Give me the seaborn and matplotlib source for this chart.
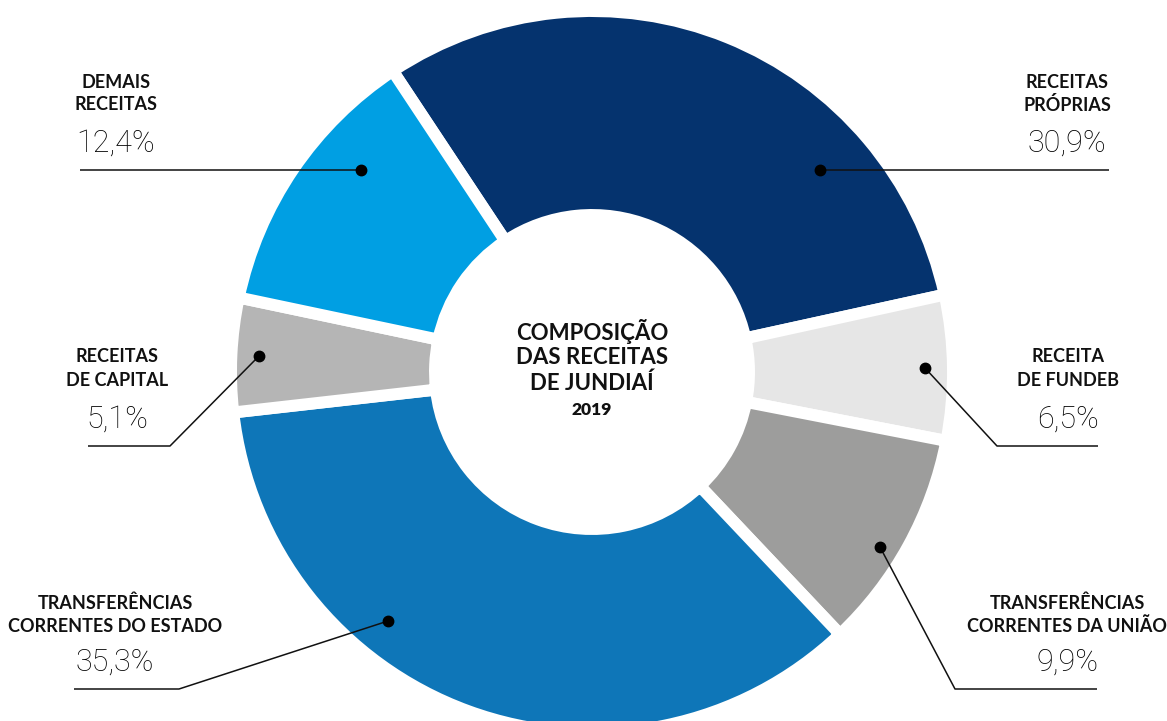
import matplotlib
matplotlib.use("Agg")
import matplotlib.pyplot as plt
import seaborn as sns

# Revenue composition, Jundiaí 2019 (share of total, %)
categories = [
    "RECEITAS\nPRÓPRIAS",
    "RECEITA\nDE FUNDEB",
    "TRANSFERÊNCIAS\nCORRENTES DA UNIÃO",
    "TRANSFERÊNCIAS\nCORRENTES DO ESTADO",
    "RECEITAS\nDE CAPITAL",
    "DEMAIS\nRECEITAS",
]
shares = [30.9, 6.5, 9.9, 35.3, 5.1, 12.4]
colors = ["#05336E", "#E6E6E6", "#9D9D9C", "#0E76B8", "#B5B5B5", "#009FE3"]

title_lines = ["COMPOSIÇÃO", "DAS RECEITAS", "DE JUNDIAÍ"]
year = "2019"

W, H = 1167, 721
sns.set_theme(style="white")
plt.rcParams["font.family"] = ["Lato", "DejaVu Sans"]

fig = plt.figure(figsize=(W / 100, H / 100), dpi=100)
ax = fig.add_axes([0, 0, 1, 1])


def Y(py):
    """Convert a top-down pixel row to the axes' bottom-up coordinate."""
    return H - py


cx, cy = 592, Y(372)
r_out, r_in = 361, 157
gap_lw = 8.6

ax.pie(
    shares,
    colors=sns.color_palette(colors),
    radius=r_out,
    center=(cx, cy),
    startangle=123.5,
    counterclock=False,
    wedgeprops=dict(width=r_out - r_in, edgecolor="white", linewidth=gap_lw),
)
ax.set_xlim(0, W)
ax.set_ylim(0, H)
ax.set_aspect("equal")
ax.axis("off")

# Centre title
for i, line in enumerate(title_lines):
    ax.text(cx, Y(332 + 25.5 * i), line, ha="center", va="center",
            fontsize=16, fontweight="bold", color="#111111")
ax.text(cx, Y(410), year, ha="center", va="center",
        fontsize=12.5, fontweight="heavy", color="#111111")

# Callout layout: label centre x, name line rows, percent row, leader path
callouts = [
    dict(tx=1067, rows=(83, 105), prow=143, path=[(820, 170), (1109, 170)]),
    dict(tx=1068, rows=(357, 381), prow=419, path=[(925, 368), (997, 446), (1098, 446)]),
    dict(tx=1067, rows=(603, 626), prow=662, path=[(880, 547), (955, 689), (1097, 689)]),
    dict(tx=115, rows=(603, 626), prow=662, path=[(388, 621), (179, 689), (74, 689)]),
    dict(tx=117, rows=(357, 381), prow=419, path=[(259, 356), (170, 446), (88, 446)]),
    dict(tx=116, rows=(83, 105), prow=143, path=[(361, 170), (80, 170)]),
]

for name, val, c in zip(categories, shares, callouts):
    for row, part in zip(c["rows"], name.split("\n")):
        ax.text(c["tx"], Y(row), part, ha="center", va="center",
                fontsize=13, fontweight="bold", color="#111111")
    ax.text(c["tx"], Y(c["prow"]), f"{val:.1f}%".replace(".", ","),
            ha="center", va="center", fontsize=22,
            family=["Roboto", "DejaVu Sans"], fontweight="light",
            color="#000000")
    xs = [p[0] for p in c["path"]]
    ys = [Y(p[1]) for p in c["path"]]
    ax.plot(xs, ys, color="#111111", lw=1.1, solid_capstyle="butt")
    ax.plot(xs[0], ys[0], "o", color="black", ms=7.5)

fig.savefig("out.png", dpi=100)
